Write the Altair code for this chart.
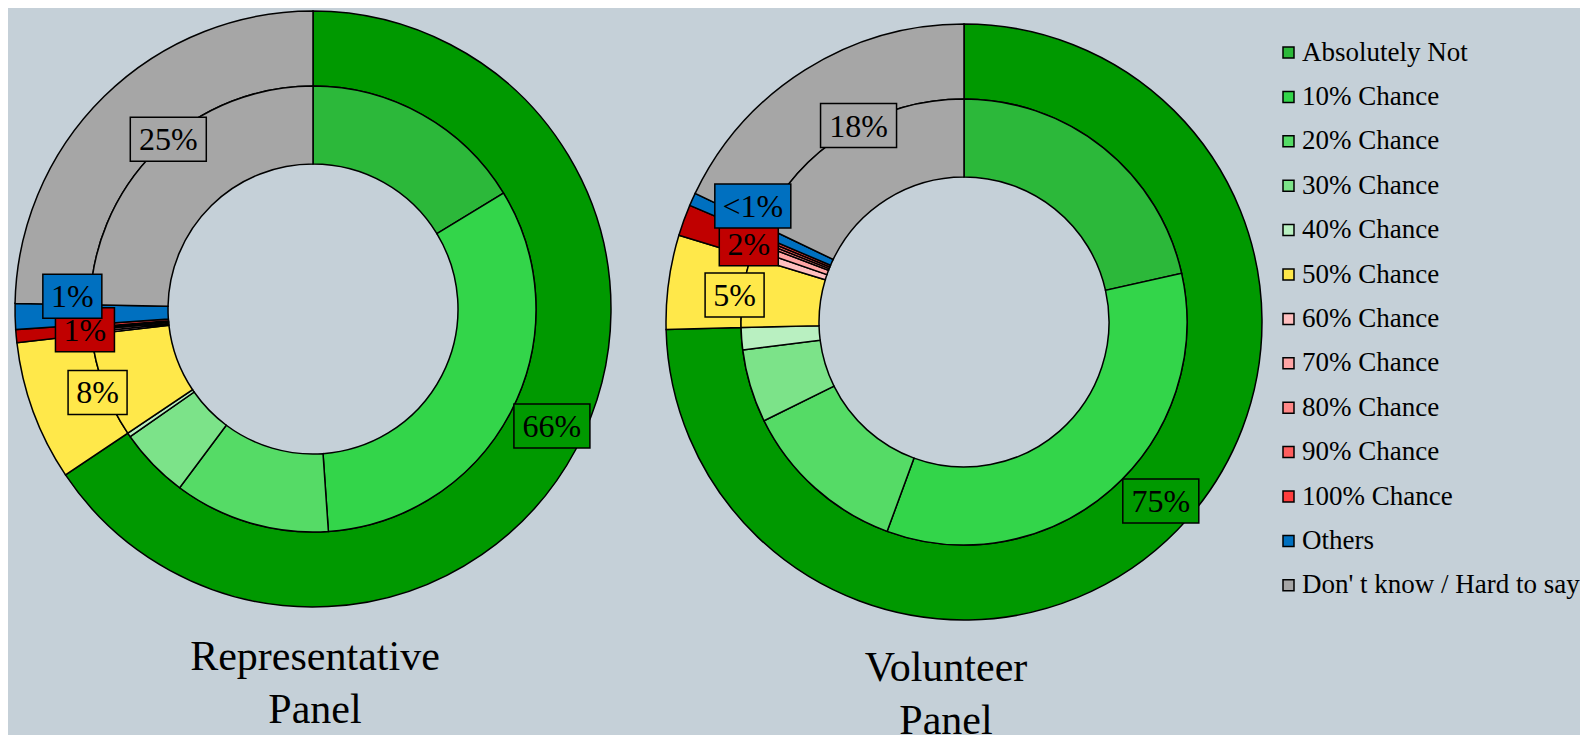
import altair as alt
import pandas as pd

# ---------------- data ----------------
categories = [
    "Absolutely Not", "10% Chance", "20% Chance", "30% Chance", "40% Chance",
    "50% Chance", "60% Chance", "70% Chance", "80% Chance", "90% Chance",
    "100% Chance", "Others", "Don' t know / Hard to say",
]
category_group = ["No", "No", "No", "No", "No", "Maybe",
                  "Yes", "Yes", "Yes", "Yes", "Yes", "Others", "DK"]
groups = ["No", "Maybe", "Yes", "Others", "DK"]

rep_values = [16.3, 32.6, 11.3, 5.1, 0.3, 7.6, 0.15, 0.15, 0.1, 0.1, 0.2, 1.4, 24.7]
vol_values = [21.5, 34.1, 12.1, 5.3, 1.6, 5.1, 0.6, 0.5, 0.2, 0.2, 0.2, 0.7, 17.9]

rep_labels = ["66%", "8%", "1%", "1%", "25%"]
vol_labels = ["75%", "5%", "2%", "<1%", "18%"]

rep_title = ["Representative", "Panel"]
vol_title = ["Volunteer", "Panel"]

# ---------------- style ----------------
cat_colors = ["#2CB83A", "#33D54A", "#55DB66", "#7CE389", "#B9F0C1", "#FFE84A",
              "#FFBFBF", "#FFA5A5", "#FF8787", "#FF5E5E", "#FF3D3D", "#0070C0", "#A6A6A6"]
group_colors = ["#009900", "#FFE84A", "#C00000", "#0070C0", "#A6A6A6"]
label_radius = {"No": 266, "Maybe": 231, "Yes": 229, "Others": 241, "DK": 223}
label_nudge = {"No": -2, "Maybe": -1, "Yes": 0, "Others": 4.5, "DK": 4}

FONT = "Liberation Serif"
BG = "#C5D0D8"
R_OUT, R_MID, R_IN = 298, 223, 145

short_box = "M-1,-0.746L1,-0.746L1,0.746L-1,0.746Z"   # 59 x 44
long_box = "M-1,-0.579L1,-0.579L1,0.579L-1,0.579Z"    # 76 x 44


def ternary(mapping):
    expr = "0"
    for k, v in reversed(list(mapping.items())):
        expr = f"datum.group == '{k}' ? {v} : ({expr})"
    return expr


legend = alt.Legend(
    title=None, orient="none", legendX=1267, legendY=26,
    symbolType="square", symbolSize=121, symbolStrokeColor="black",
    symbolStrokeWidth=1.5, symbolOpacity=1,
    labelFont=FONT, labelFontSize=27, labelColor="black", labelOffset=0,
    rowPadding=16.4, labelLimit=500, padding=0,
)


def panel(values, labels, title_lines, w, h, title_offset, title_dx):
    inner = pd.DataFrame({
        "cat": categories, "group": category_group, "value": values,
        "idx": list(range(len(categories))),
    })
    outer = (inner.groupby("group", sort=False)["value"].sum()
             .reindex(groups).reset_index())
    outer["gidx"] = list(range(len(groups)))
    outer["label"] = labels

    fill_scale = alt.Scale(domain=groups, range=group_colors)

    outer_arc = alt.Chart(outer).mark_arc(
        outerRadius=R_OUT, innerRadius=R_MID, stroke="black", strokeWidth=1.5
    ).encode(
        theta=alt.Theta("value:Q", stack=True),
        order=alt.Order("gidx:Q"),
        fill=alt.Fill("group:N", scale=fill_scale, legend=None),
    )

    inner_arc = alt.Chart(inner).mark_arc(
        outerRadius=R_MID, innerRadius=R_IN, stroke="black", strokeWidth=1.5
    ).encode(
        theta=alt.Theta("value:Q", stack=True),
        order=alt.Order("idx:Q"),
        color=alt.Color("cat:N", scale=alt.Scale(domain=categories, range=cat_colors),
                        sort=categories, legend=legend),
    )

    lab = alt.Chart(outer).transform_joinaggregate(
        total="sum(value)"
    ).transform_window(
        cum="sum(value)", sort=[alt.SortField("gidx")], frame=[None, 0]
    ).transform_calculate(
        lr=ternary(label_radius),
        nudge=ternary(label_nudge),
    ).transform_calculate(
        mid="(datum.cum - datum.value / 2) / datum.total * 2 * PI + datum.nudge * PI / 180"
    ).transform_calculate(
        lx="datum.lr * sin(datum.mid)",
        ly="datum.lr * cos(datum.mid)",
    )
    xenc = alt.X("lx:Q", scale=alt.Scale(domain=[-w / 2, w / 2], nice=False, zero=False), axis=None)
    yenc = alt.Y("ly:Q", scale=alt.Scale(domain=[-h / 2, h / 2], nice=False, zero=False), axis=None)

    box_s = lab.transform_filter("length(datum.label) <= 2").mark_point(
        shape=short_box, size=59 ** 2, filled=True, stroke="black",
        strokeWidth=1.5, opacity=1, fillOpacity=1, strokeOpacity=1,
    ).encode(x=xenc, y=yenc, fill=alt.Fill("group:N", scale=fill_scale, legend=None))
    box_l = lab.transform_filter("length(datum.label) > 2").mark_point(
        shape=long_box, size=76 ** 2, filled=True, stroke="black",
        strokeWidth=1.5, opacity=1, fillOpacity=1, strokeOpacity=1,
    ).encode(x=xenc, y=yenc, fill=alt.Fill("group:N", scale=fill_scale, legend=None))
    txt = lab.mark_text(
        font=FONT, fontSize=32, color="black", align="center", baseline="middle", dy=1
    ).encode(x=xenc, y=yenc, text="label:N")

    return alt.layer(outer_arc, inner_arc, box_s, box_l, txt).properties(
        width=w, height=h,
        title=alt.TitleParams(
            text=title_lines, orient="bottom", anchor="middle", frame="group",
            font=FONT, fontSize=42, fontWeight="normal", color="black",
            lineHeight=53, offset=title_offset, dx=title_dx,
        ),
    )


p1 = panel(rep_values, rep_labels, rep_title, 610, 592, 27, 2)
p2 = panel(vol_values, vol_labels, vol_title, 600, 618, 17, -18)

chart = alt.hconcat(p1, p2, spacing=46, bounds="flush").resolve_scale(
    theta="independent", x="independent", y="independent"
).properties(
    padding=0, background=BG
).configure_view(stroke=None)

chart.save("out.html", embed_options={"renderer": "svg", "actions": False})
